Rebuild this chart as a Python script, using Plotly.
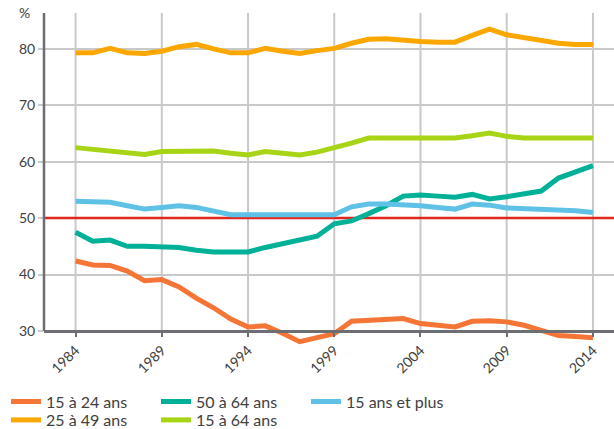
import plotly.graph_objects as go

years = list(range(1984, 2015))

r_15_24 = [42.4, 41.7, 41.6, 40.6, 38.9, 39.1, 37.8, 35.8, 34.1, 32.1,
           30.7, 30.9, 29.6, 28.1, 28.8, 29.5, 31.7, 31.8, 32.0, 32.2,
           31.3, 30.9, 30.7, 31.7, 31.8, 31.6, 31.0, 30.1, 29.2, 29.0, 28.8]
r_25_49 = [79.3, 79.3, 80.1, 79.3, 79.2, 79.6, 80.4, 80.8, 80.0, 79.3,
           79.3, 80.1, 79.6, 79.2, 79.7, 80.1, 81.0, 81.7, 81.8, 81.5,
           81.3, 81.2, 81.2, 82.4, 83.5, 82.5, 82.0, 81.5, 81.0, 80.8, 80.8]
r_50_64 = [47.5, 45.9, 46.1, 45.0, 45.0, 45.0, 44.8, 44.3, 44.0, 44.0,
           44.0, 44.8, 45.5, 46.3, 46.8, 49.0, 49.5, 50.8, 52.2, 53.9,
           54.1, 53.9, 53.7, 54.2, 53.4, 53.8, 54.3, 54.8, 57.1, 58.3, 59.3]
r_15_64 = [62.5, 62.2, 62.0, 61.7, 61.3, 61.8, 61.9, 61.9, 61.9, 61.5,
           61.2, 61.8, 61.4, 61.2, 61.7, 62.4, 63.3, 64.2, 64.2, 64.2,
           64.2, 64.2, 64.2, 64.6, 65.1, 64.5, 64.2, 64.2, 64.2, 64.2, 64.2]
r_15_plus = [53.0, 52.9, 52.8, 52.2, 51.6, 51.9, 52.2, 51.9, 51.3, 50.6,
             50.6, 50.6, 50.6, 50.6, 50.6, 50.6, 52.0, 52.5, 52.5, 52.4,
             52.2, 51.9, 51.6, 52.5, 52.3, 51.8, 51.7, 51.7, 51.6, 51.3, 51.0]

names = ["15 à 24 ans", "25 à 49 ans", "50 à 64 ans", "15 à 64 ans", "15 ans et plus"]
colors = ["#F47536", "#FAA800", "#00B097", "#A8D416", "#5FC1E6"]
legends = ["legend", "legend2", "legend", "legend2", "legend"]
series = [r_15_24, r_25_49, r_50_64, r_15_64, r_15_plus]

x_ticks = [1984, 1989, 1994, 1999, 2004, 2009, 2014]
y_ticks = [30, 40, 50, 60, 70, 80]
threshold = 50

X_RANGE = [1982.17, 2015.22]
Y_RANGE = [27.5, 86.37]
Y_BASE = 30

FONT = "Lato"
GRID = "#C9C9C9"
AXIS = "#6D6E71"
TXT = "#404040"

fig = go.Figure()

fig.add_trace(go.Scatter(x=X_RANGE, y=[threshold, threshold], mode="lines",
                         line=dict(color="#E3261C", width=2.5),
                         showlegend=False, hoverinfo="skip"))

for name, vals, col, lg in zip(names, series, colors, legends):
    fig.add_trace(go.Scatter(x=years, y=vals, mode="lines", name=name,
                             line=dict(color=col, width=5), legend=lg))

shapes = []
for xv in x_ticks:
    shapes.append(dict(type="line", xref="x", yref="y", x0=xv, x1=xv,
                       y0=Y_BASE, y1=Y_RANGE[1], layer="below",
                       line=dict(color=GRID, width=2)))
shapes.append(dict(type="line", xref="paper", yref="y", x0=0, x1=0,
                   y0=Y_BASE, y1=Y_RANGE[1], layer="above",
                   line=dict(color=AXIS, width=2.5)))

pos = (Y_BASE - Y_RANGE[0]) / (Y_RANGE[1] - Y_RANGE[0])

W, H = 614, 429
ml, mr, mt, mb = 44, 0, 13, 84


def cx(px):
    return px / W


def cy(py):
    return (H - py) / H


leg_common = dict(orientation="h", xref="container", yref="container",
                  xanchor="left", yanchor="middle", entrywidth=105,
                  font=dict(family=FONT, size=16, color=TXT),
                  bgcolor="rgba(0,0,0,0)", itemwidth=30)

fig.update_layout(
    width=W, height=H,
    margin=dict(l=ml, r=mr, t=mt, b=mb, autoexpand=False),
    paper_bgcolor="white", plot_bgcolor="white",
    font=dict(family=FONT, size=14, color=TXT),
    shapes=shapes,
    xaxis=dict(range=X_RANGE, tickvals=x_ticks, ticktext=[str(v) for v in x_ticks],
               tickangle=-45, showgrid=False, zeroline=False,
               showline=True, linecolor=AXIS, linewidth=2.5,
               anchor="free", position=pos, automargin=False,
               ticks="outside", ticklen=4, tickwidth=2, tickcolor=AXIS,
               tickfont=dict(family=FONT, size=14, color=TXT)),
    yaxis=dict(range=Y_RANGE, tickvals=y_ticks, showgrid=True, gridcolor=GRID,
               gridwidth=2, zeroline=False, showline=False, automargin=False,
               ticks="outside", ticklen=5, tickwidth=2, tickcolor=GRID,
               tickfont=dict(family=FONT, size=14, color=TXT)),
    legend=dict(x=cx(6), y=cy(401.5), **leg_common),
    legend2=dict(x=cx(6), y=cy(420), **leg_common),
    annotations=[dict(text="%", xref="paper", yref="paper",
                      x=(24.5 - ml) / (W - ml - mr), y=(H - mb - 12.5) / (H - mt - mb),
                      xanchor="center", yanchor="middle", showarrow=False,
                      font=dict(family=FONT, size=14, color=TXT))],
)

fig.write_html(
    "out.html",
    config={"displayModeBar": False},
    post_script="document.body.style.margin='0px';document.body.style.overflow='hidden';",
)
